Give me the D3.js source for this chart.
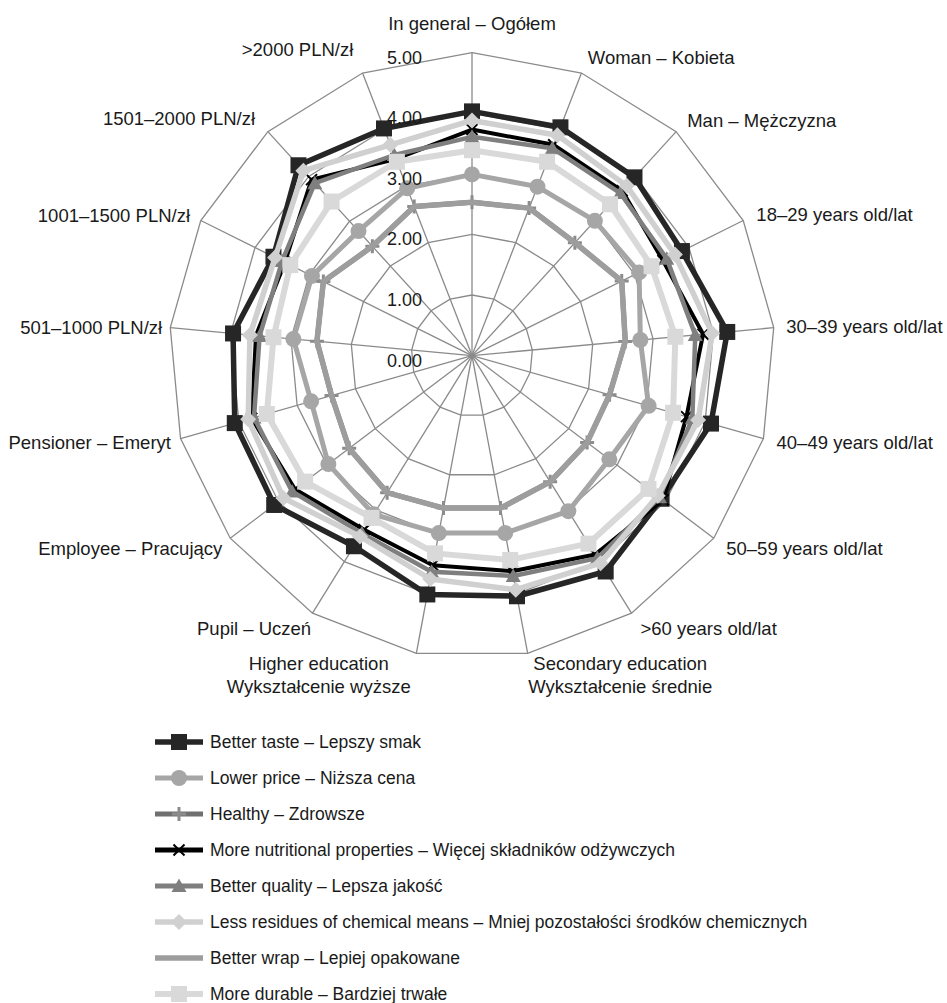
<!DOCTYPE html>
<html>
<head>
<meta charset="utf-8">
<script src="https://cdn.jsdelivr.net/npm/d3@7"></script>
<style>
  body { margin: 0; background: #fff; }
  svg text { font-family: "Liberation Sans", Arial, sans-serif; fill: #1a1a1a; }
</style>
</head>
<body>
<svg id="chart"></svg>
<script>
// categories, clockwise from the top
const categories = [
  ["In general – Ogółem"], ["Woman – Kobieta"], ["Man – Mężczyzna"],
  ["18–29 years old/lat"], ["30–39 years old/lat"], ["40–49 years old/lat"],
  ["50–59 years old/lat"], [">60 years old/lat"],
  ["Secondary education", "Wykształcenie średnie"],
  ["Higher education", "Wykształcenie wyższe"],
  ["Pupil – Uczeń"], ["Employee – Pracujący"], ["Pensioner – Emeryt"],
  ["501–1000 PLN/zł"], ["1001–1500 PLN/zł"], ["1501–2000 PLN/zł"], [">2000 PLN/zł"]
];
const tickValues = [0, 1, 2, 3, 4, 5];

const betterTaste   = [4.03, 4.04, 3.98, 3.87, 4.23, 4.10, 3.92, 4.19, 4.04, 4.01, 3.70, 4.09, 4.07, 3.96, 3.66, 4.25, 4.02];
const lowerPrice    = [2.99, 2.99, 3.01, 3.08, 2.79, 3.03, 2.84, 3.02, 2.98, 2.98, 3.08, 2.97, 2.76, 2.96, 2.95, 2.78, 2.96];
const healthy       = [2.53, 2.61, 2.52, 2.76, 2.54, 2.36, 2.38, 2.45, 2.56, 2.56, 2.66, 2.54, 2.41, 2.57, 2.74, 2.44, 2.64];
const nutritional   = [3.73, 3.73, 3.68, 3.52, 3.83, 3.68, 3.95, 3.86, 3.62, 3.52, 3.38, 3.66, 3.78, 3.58, 3.45, 3.93, 3.48];
const betterQuality = [3.61, 3.67, 3.63, 3.59, 3.70, 3.78, 3.88, 3.93, 3.70, 3.63, 3.45, 3.72, 3.74, 3.52, 3.50, 3.85, 3.55];
const lessResidues  = [3.88, 3.90, 3.79, 3.74, 3.98, 3.88, 3.84, 4.03, 3.93, 3.75, 3.51, 3.90, 3.84, 3.68, 3.63, 4.13, 3.73];
const betterWrap    = [2.53, 2.61, 2.52, 2.76, 2.54, 2.36, 2.38, 2.45, 2.56, 2.56, 2.66, 2.54, 2.41, 2.57, 2.74, 2.44, 2.64];
const moreDurable   = [3.39, 3.43, 3.38, 3.31, 3.37, 3.45, 3.65, 3.65, 3.43, 3.32, 3.15, 3.45, 3.52, 3.29, 3.35, 3.44, 3.43];

const seriesNames = [
  "Better taste – Lepszy smak",
  "Lower price – Niższa cena",
  "Healthy – Zdrowsze",
  "More nutritional properties – Więcej składników odżywczych",
  "Better quality – Lepsza jakość",
  "Less residues of chemical means – Mniej pozostałości środków chemicznych",
  "Better wrap – Lepiej opakowane",
  "More durable – Bardziej trwałe"
];

const width = 947, height = 1003;
const cx = 472, cy = 355.6, R = 303;

const series = [
  { name: seriesNames[0], values: betterTaste,   color: "#262626", lw: 5.5, marker: "square",   mcolor: "#262626", ms: 16 },
  { name: seriesNames[1], values: lowerPrice,    color: "#a6a6a6", lw: 5,   marker: "circle",   mcolor: "#a6a6a6", ms: 16 },
  { name: seriesNames[2], values: healthy,       color: "#707070", lw: 5,   marker: "plus",     mcolor: "#8c8c8c", ms: 14 },
  { name: seriesNames[3], values: nutritional,   color: "#000000", lw: 4,   marker: "times",    mcolor: "#000000", ms: 11 },
  { name: seriesNames[4], values: betterQuality, color: "#7f7f7f", lw: 4.5, marker: "triangle", mcolor: "#7f7f7f", ms: 15 },
  { name: seriesNames[5], values: lessResidues,  color: "#d0d0d0", lw: 5.5, marker: "diamond",  mcolor: "#d0d0d0", ms: 16 },
  { name: seriesNames[6], values: betterWrap,    color: "#9d9d9d", lw: 5.5, marker: null },
  { name: seriesNames[7], values: moreDurable,   color: "#d9d9d9", lw: 6,   marker: "square",   mcolor: "#d9d9d9", ms: 16 }
];

const svg = d3.select("#chart").attr("width", width).attr("height", height);

const r = d3.scaleLinear().domain([0, 5]).range([0, R]);
const angle = d3.scaleLinear().domain([0, categories.length]).range([0, 2 * Math.PI]);
const pt = (i, v) => [cx + r(v) * Math.sin(angle(i)), cy - r(v) * Math.cos(angle(i))];

// marker shapes
function markerPath(type, s) {
  const h = s / 2;
  if (type === "square") return `M${-h},${-h}H${h}V${h}H${-h}Z`;
  if (type === "diamond") return `M0,${-h}L${h},0L0,${h}L${-h},0Z`;
  if (type === "triangle") return `M0,${-h}L${h},${h * 0.8}L${-h},${h * 0.8}Z`;
  if (type === "plus") return `M${-h},0H${h}M0,${-h}V${h}`;
  if (type === "times") return `M${-h},${-h}L${h},${h}M${h},${-h}L${-h},${h}`;
  return "";
}
function drawMarker(g, s, x, y) {
  if (!s.marker) return;
  if (s.marker === "circle") {
    g.append("circle").attr("cx", x).attr("cy", y).attr("r", s.ms / 2).attr("fill", s.mcolor);
  } else if (s.marker === "plus" || s.marker === "times") {
    g.append("path").attr("d", markerPath(s.marker, s.ms)).attr("transform", `translate(${x},${y})`)
      .attr("fill", "none").attr("stroke", s.mcolor).attr("stroke-width", s.marker === "plus" ? 3 : 2);
  } else {
    g.append("path").attr("d", markerPath(s.marker, s.ms)).attr("transform", `translate(${x},${y})`)
      .attr("fill", s.mcolor);
  }
}

// grid
const grid = svg.append("g").attr("stroke", "#8a8a8a").attr("stroke-width", 1.3).attr("fill", "none");
const ring = d3.lineRadial().angle((d, i) => angle(i)).radius(d => r(d)).curve(d3.curveLinearClosed);
tickValues.filter(t => t > 0).forEach(t => {
  grid.append("path").attr("transform", `translate(${cx},${cy})`).attr("d", ring(categories.map(() => t)));
});
categories.forEach((c, i) => {
  const [x, y] = pt(i, 5);
  grid.append("line").attr("x1", cx).attr("y1", cy).attr("x2", x).attr("y2", y);
});

// series lines and markers (first series at the bottom, like Excel)
const line = d3.lineRadial().angle((d, i) => angle(i)).radius(d => r(d)).curve(d3.curveLinearClosed);
series.forEach(s => {
  const g = svg.append("g");
  g.append("path").attr("transform", `translate(${cx},${cy})`).attr("d", line(s.values))
    .attr("fill", "none").attr("stroke", s.color).attr("stroke-width", s.lw).attr("stroke-linejoin", "round");
  s.values.forEach((v, i) => { const [x, y] = pt(i, v); drawMarker(g, s, x, y); });
});

// tick labels
svg.append("g").selectAll("text").data(tickValues).join("text")
  .attr("x", cx - 50).attr("y", d => cy - r(d) + 5)
  .attr("text-anchor", "end").attr("dominant-baseline", "central")
  .style("font-size", "18px").text(d => d.toFixed(2));

// category labels
const lab = svg.append("g").style("font-size", "18.5px");
categories.forEach((c, i) => {
  const a = angle(i), s = Math.sin(a), co = Math.cos(a);
  let dx, dy;
  if (s > 0) { dx = dy = 12 + 6 * Math.abs(co); }
  else if (co >= 0) { dx = dy = 8 + 20 * co * co; }
  else { dy = 12 + 6 * Math.abs(co); dx = 10 - 30 * Math.max(0, -co - 0.6); }
  let x = cx + (R + dx) * s, y = cy - (R + dy) * co;
  let anchor = s > 0.15 ? "start" : s < -0.15 ? "end" : "middle";
  if (c.length > 1) {
    // two-line labels under the chart
    anchor = "middle";
    x = cx + (R + 14) * s + (s > 0 ? 90 : -95);
    y = cy - (R + 14) * co - 4;
  } else if (i === 0) {
    y = cy - R - 30;
  }
  const t = lab.append("text").attr("x", x).attr("y", y).attr("text-anchor", anchor).attr("dominant-baseline", "central");
  c.forEach((ln, j) => t.append("tspan").attr("x", x).attr("dy", j === 0 ? 0 : 23).text(ln));
});

// legend
const legend = svg.append("g").attr("transform", "translate(155,742)");
series.forEach((s, i) => {
  const g = legend.append("g").attr("transform", `translate(0,${i * 36})`);
  g.append("line").attr("x1", 0).attr("x2", 48).attr("y1", 0).attr("y2", 0)
    .attr("stroke", s.color).attr("stroke-width", Math.max(s.lw, 5));
  drawMarker(g, s, 24, 0);
  g.append("text").attr("x", 55).attr("y", 0).attr("dominant-baseline", "central")
    .style("font-size", "17.5px").text(s.name);
});
</script>
</body>
</html>
